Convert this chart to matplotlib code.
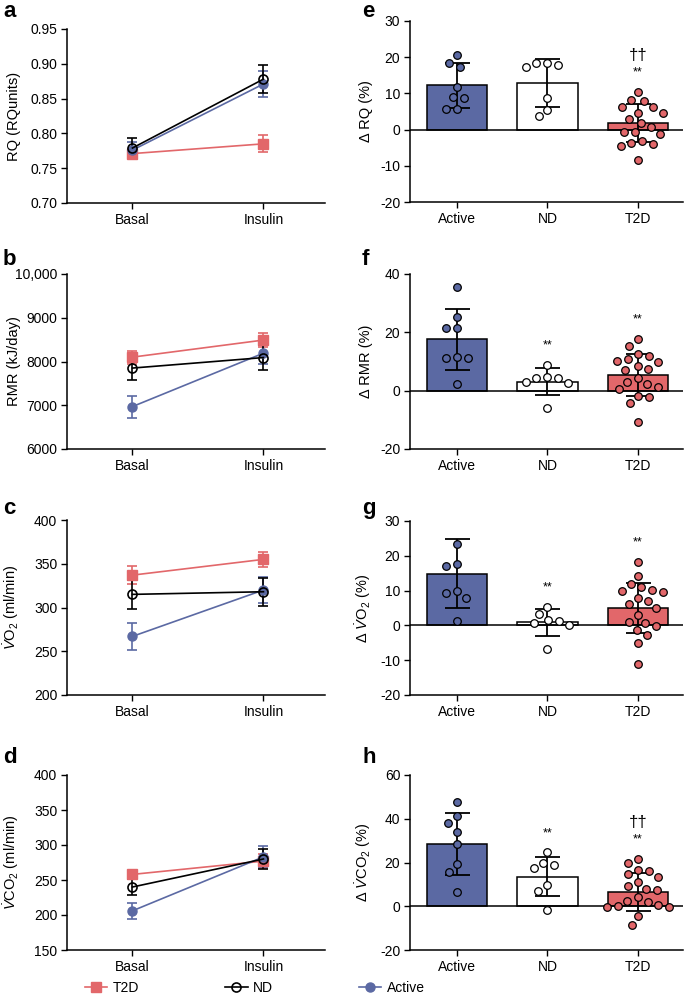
import numpy as np
import matplotlib.pyplot as plt
from matplotlib.lines import Line2D

plt.rcParams['font.family'] = ['Liberation Sans', 'DejaVu Sans']
plt.rcParams['mathtext.fontset'] = 'custom'
plt.rcParams['mathtext.rm'] = 'Liberation Sans'
plt.rcParams['mathtext.it'] = 'Liberation Sans:italic'
plt.rcParams['font.size'] = 10
plt.rcParams['axes.unicode_minus'] = False

RED = '#E2676A'
BLUE = '#5B69A3'

# ---- left column: mean +/- SE, Basal vs Insulin ----
conditions = ['Basal', 'Insulin']
line_groups = ['T2D', 'Active', 'ND']

rq_mean = {'T2D': [0.771, 0.785], 'ND': [0.779, 0.878], 'Active': [0.776, 0.871]}
rq_se = {'T2D': [0.006, 0.012], 'ND': [0.014, 0.020], 'Active': [0.012, 0.018]}

rmr_mean = {'T2D': [8100, 8490], 'ND': [7850, 8090], 'Active': [6970, 8190]}
rmr_se = {'T2D': [150, 150], 'ND': [280, 290], 'Active': [250, 240]}

vo2_mean = {'T2D': [337, 355], 'ND': [315, 318], 'Active': [267, 320]}
vo2_se = {'T2D': [10, 9], 'ND': [16.5, 16], 'Active': [15, 14.5]}

vco2_mean = {'T2D': [258, 277], 'ND': [240, 280], 'Active': [206, 283]}
vco2_se = {'T2D': [4, 10], 'ND': [12, 14], 'Active': [11, 15]}

# ---- right column: % change, individual points + mean +/- SD ----
bar_groups = ['Active', 'ND', 'T2D']

d_rq = {
    'Active': [20.7, 18.5, 17.4, 11.8, 9.0, 8.8, 5.7, 5.7],
    'ND': [18.4, 17.3, 17.8, 18.4, 8.7, 3.7, 5.5],
    'T2D': [10.4, 8.1, 7.9, 6.2, 6.2, 4.7, 4.7, 3.0, 1.8, 0.7, -0.8, -0.8,
            -1.1, -3.2, -3.6, -3.9, -4.5, -8.5],
}
d_rq_mean = [12.2, 12.9, 1.9]
d_rq_sd = [6.1, 6.7, 5.2]
d_rq_sig = ['', '', '**']
d_rq_dag = ['', '', '\u2020\u2020']

d_rmr = {
    'Active': [35.7, 25.4, 21.6, 21.6, 11.3, 11.1, 11.7, 2.2],
    'ND': [8.8, 4.2, 3.1, 2.5, 4.2, 4.6, -6.1],
    'T2D': [17.6, 15.3, 12.5, 11.9, 10.3, 9.7, 10.7, 8.6, 7.1, 7.3, 4.2, 2.2,
            0.5, 1.4, 2.9, -2.1, -1.7, -4.3, -10.9],
}
d_rmr_mean = [17.6, 3.1, 5.4]
d_rmr_sd = [10.4, 4.5, 7.2]
d_rmr_sig = ['', '**', '**']
d_rmr_dag = ['', '', '']

d_vo2 = {
    'Active': [23.3, 17.1, 17.7, 9.4, 9.9, 8.0, 1.3],
    'ND': [5.4, 3.4, 1.5, 0.55, 0.2, 1.2, -6.7],
    'T2D': [18.2, 14.2, 11.8, 10.9, 9.9, 9.5, 10.3, 7.9, 7.1, 6.1, 4.9, 2.9,
            0.55, 1.0, -0.1, -1.4, -2.7, -5.2, -11.2],
}
d_vo2_mean = [14.9, 0.85, 5.0]
d_vo2_sd = [9.9, 3.85, 7.3]
d_vo2_sig = ['', '**', '**']
d_vo2_dag = ['', '', '']

d_vco2 = {
    'Active': [47.8, 41.3, 38.2, 34.0, 28.3, 19.2, 15.7, 6.7],
    'ND': [24.6, 19.9, 17.3, 19.0, 9.9, 7.1, -1.6],
    'T2D': [21.8, 19.9, 16.6, 16.3, 14.7, 13.5, 11.2, 7.7, 9.3, 7.4, 4.1, 2.4,
            1.8, 0.6, -0.2, -0.2, 0.1, -4.3, -8.6],
}
d_vco2_mean = [28.6, 13.5, 6.7]
d_vco2_sd = [14.1, 8.9, 8.7]
d_vco2_sig = ['', '**', '**']
d_vco2_dag = ['', '', '\u2020\u2020']

line_style = {
    'T2D': dict(color=RED, marker='s', mfc=RED, mec=RED, ms=6.5),
    'ND': dict(color='black', marker='o', mfc='none', mec='black', ms=6.5, mew=1.2),
    'Active': dict(color=BLUE, marker='o', mfc=BLUE, mec=BLUE, ms=6.5),
}
bar_colors = [BLUE, 'white', RED]

fig = plt.figure(figsize=(6.85, 10.08), dpi=100)
W, H = 685.0, 1008.0


def add_ax(left, top, right, bottom):
    return fig.add_axes([left / W, 1 - bottom / H, (right - left) / W, (bottom - top) / H])


def style_ax(ax):
    for s in ['top', 'right']:
        ax.spines[s].set_visible(False)
    for s in ['left', 'bottom']:
        ax.spines[s].set_linewidth(1.1)
    ax.tick_params(direction='out', length=4, width=1.0, labelsize=10, pad=3)


def line_panel(ax, mean, se, ylim, yticks, yticklabels, ylabel):
    x = np.arange(len(conditions))
    for g in line_groups:
        ax.errorbar(x, mean[g], yerr=se[g], lw=1.2, elinewidth=1.2, capsize=3.5,
                    capthick=1.2, label=g, zorder=3, **line_style[g])
    ax.set_xlim(-0.5, 1.47)
    ax.set_ylim(*ylim)
    ax.set_yticks(yticks)
    ax.set_yticklabels(yticklabels)
    ax.set_xticks(x)
    ax.set_xticklabels(conditions)
    ax.set_ylabel(ylabel, fontsize=10.5)
    ax.yaxis.set_label_coords(-0.18, 0.5)
    style_ax(ax)


def swarm_offsets(ax, vals, d_px):
    pos = ax.get_position()
    w_px = pos.width * W
    h_px = pos.height * H
    x0, x1 = ax.get_xlim()
    y0, y1 = ax.get_ylim()
    sx = w_px / (x1 - x0)
    sy = h_px / (y1 - y0)
    ys = np.asarray(vals, dtype=float) * sy
    offs = np.zeros(len(ys))
    placed = []
    for i in np.argsort(-ys):
        cands = [0.0]
        for j in placed:
            dy = ys[i] - ys[j]
            if abs(dy) < d_px:
                dx = np.sqrt(d_px ** 2 - dy ** 2)
                cands += [offs[j] - dx, offs[j] + dx]
        cands.sort(key=lambda c: (abs(c), c))
        for c in cands:
            ok = all((c - offs[j]) ** 2 + (ys[i] - ys[j]) ** 2 >= d_px ** 2 - 1e-6 for j in placed)
            if ok:
                offs[i] = c
                break
        placed.append(i)
    return offs / sx


def bar_panel(ax, pts, means, sds, sig, dag, ylim, yticks, ylabel):
    x = np.arange(len(bar_groups))
    ax.set_xlim(-0.52, 2.5)
    ax.set_ylim(*ylim)
    ax.bar(x, means, width=0.67, color=bar_colors, edgecolor='black', linewidth=1.1, zorder=2)
    ax.axhline(0, color='black', lw=1.1, zorder=2.5)
    ax.errorbar(x, means, yerr=sds, fmt='none', ecolor='black', elinewidth=1.3,
                capsize=9, capthick=1.3, zorder=3)
    for i, g in enumerate(bar_groups):
        vals = pts[g]
        offs = swarm_offsets(ax, vals, 11.0)
        ax.scatter(i + offs, vals, s=30, c=bar_colors[i], edgecolors='black',
                   linewidths=0.9, zorder=4)
        top = max(vals)
        if sig[i]:
            ax.annotate(sig[i], (i, top), xytext=(0, 14), textcoords='offset points',
                        ha='center', va='center', fontsize=9)
        if dag[i]:
            ax.annotate(dag[i], (i, top), xytext=(0, 26), textcoords='offset points',
                        ha='center', va='center', fontsize=12)
    ax.set_yticks(yticks)
    ax.set_xticks(x)
    ax.set_xticklabels(bar_groups)
    ax.set_ylabel(ylabel, fontsize=10.5)
    ax.yaxis.set_label_coords(-0.135, 0.5)
    style_ax(ax)


# left column
ax_a = add_ax(67, 29, 325, 203)
line_panel(ax_a, rq_mean, rq_se, (0.70, 0.95), np.arange(0.70, 0.951, 0.05),
           ['%.2f' % v for v in np.arange(0.70, 0.951, 0.05)], 'RQ (RQunits)')
ax_b = add_ax(67, 274, 325, 449)
line_panel(ax_b, rmr_mean, rmr_se, (6000, 10000), [6000, 7000, 8000, 9000, 10000],
           ['6000', '7000', '8000', '9000', '10,000'], 'RMR (kJ/day)')
ax_c = add_ax(67, 520, 325, 695)
line_panel(ax_c, vo2_mean, vo2_se, (200, 400), [200, 250, 300, 350, 400],
           ['200', '250', '300', '350', '400'], r'$\dot{V}\mathrm{O}_2$ (ml/min)')
ax_d = add_ax(67, 775, 325, 950)
line_panel(ax_d, vco2_mean, vco2_se, (150, 400), [150, 200, 250, 300, 350, 400],
           ['150', '200', '250', '300', '350', '400'], r'$\dot{V}\mathrm{CO}_2$ (ml/min)')

# right column
ax_e = add_ax(410, 21, 683, 202)
bar_panel(ax_e, d_rq, d_rq_mean, d_rq_sd, d_rq_sig, d_rq_dag, (-20, 30),
          [-20, -10, 0, 10, 20, 30], '\u0394 RQ (%)')
ax_f = add_ax(410, 274, 683, 449)
bar_panel(ax_f, d_rmr, d_rmr_mean, d_rmr_sd, d_rmr_sig, d_rmr_dag, (-20, 40),
          [-20, 0, 20, 40], '\u0394 RMR (%)')
ax_g = add_ax(410, 521, 683, 695)
bar_panel(ax_g, d_vo2, d_vo2_mean, d_vo2_sd, d_vo2_sig, d_vo2_dag, (-20, 30),
          [-20, -10, 0, 10, 20, 30], '\u0394 ' + r'$\dot{V}\mathrm{O}_2$ (%)')
ax_h = add_ax(410, 775, 683, 950)
bar_panel(ax_h, d_vco2, d_vco2_mean, d_vco2_sd, d_vco2_sig, d_vco2_dag, (-20, 60),
          [-20, 0, 20, 40, 60], '\u0394 ' + r'$\dot{V}\mathrm{CO}_2$ (%)')

# panel letters
for letter, (px, py) in zip('abcdefgh', [(3, 17), (3, 265), (3, 514), (3, 763),
                                         (362, 17), (362, 265), (362, 514), (362, 763)]):
    fig.text(px / W, 1 - py / H, letter, fontsize=16, fontweight='bold', va='baseline')

# legend
handles = [Line2D([], [], lw=1.2, **line_style[g]) for g in ['T2D', 'ND', 'Active']]
fig.legend(handles, ['T2D', 'ND', 'Active'], loc='center', ncol=3, frameon=False,
           bbox_to_anchor=(255 / W, 1 - 988 / H), fontsize=10, handlelength=1.6,
           handletextpad=0.4, columnspacing=6.2)

fig.savefig('out.png', dpi=100)
